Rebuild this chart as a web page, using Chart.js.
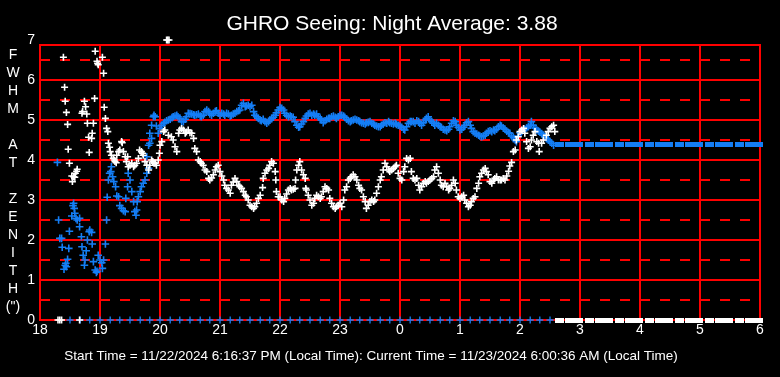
<!DOCTYPE html>
<html>
<head>
<meta charset="utf-8">
<script src="https://cdn.jsdelivr.net/npm/chart.js@4.4.1/dist/chart.umd.min.js"></script>
<style>
html,body{margin:0;padding:0;background:#000;overflow:hidden}
#wrap{position:relative;width:780px;height:377px;background:#000}
</style>
</head>
<body>
<div id="wrap"><canvas id="c" width="780" height="377"></canvas></div>
<script>
// ---------------- DATA (hours after 18:00 continue past 24 -> 0..6) ----------------
const chartTitle = "GHRO Seeing: Night Average: 3.88";
const footerText = "Start Time = 11/22/2024 6:16:37 PM (Local Time): Current Time = 11/23/2024 6:00:36 AM (Local Time)";
const yAxisLetters = ["F","W","H","M","","A","T","","Z","E","N","I","T","H","(\")"];

// white series: [hour, FWHM arcsec]
const whiteSeeing = [
[18.30,0],[18.33,0],[18.36,0],[18.66,0],
[18.39,6.57],[18.41,5.82],[18.42,5.47],[18.44,5.19],[18.46,4.89],[18.47,4.27],[18.49,3.92],
[18.53,3.6],[18.54,3.46],[18.56,3.58],[18.58,3.57],[18.59,3.67],[18.61,3.72],[18.62,3.77],
[18.70,5.17],[18.71,5.21],[18.74,5.47],[18.76,5.33],[18.78,5.15],[18.79,4.92],[18.81,4.57],[18.82,4.19],[18.86,4.54],[18.87,4.67],[18.89,4.92],[18.91,5.54],
[18.92,6.72],[18.95,6.47],[18.96,6.42],[18.97,6.38],[19.04,6.57],[19.06,6.17],
[19.07,5.32],[19.09,5.04],[19.11,4.79],[19.13,4.71],[19.14,4.42],[19.16,4.32],[19.17,4.21],[19.19,4.12],[19.22,4.04],[19.24,4.0],[19.25,3.96],[19.27,3.93],[19.28,4.12],[19.31,4.21],[19.33,4.25],[19.36,4.46],[19.37,4.43],[19.39,4.21],[19.42,4.08],[19.44,3.96],[19.46,4.08],[19.47,3.83],[19.5,3.87],[19.53,3.92],[19.56,3.83],[19.58,3.87],[19.61,3.92],[19.64,4.04],[19.66,4.25],[19.69,4.21],[19.71,4.17],[19.72,4.12],[19.75,3.96],[19.78,3.87],[19.81,3.75],[19.83,3.87],[19.86,4.0],[19.88,3.96],[19.9,3.92],[19.92,3.92],[19.94,3.87],[19.97,4.0],[19.99,4.17],[20.0,4.37],[20.03,4.46],[20.06,4.71],[20.08,4.75],
[20.11,7],[20.13,7],[20.15,7],
[20.14,4.62],[20.19,4.58],[20.22,4.5],[20.25,4.33],[20.28,4.21],[20.31,4.67],[20.33,4.75],[20.36,4.79],[20.39,4.75],[20.42,4.67],[20.44,4.7],[20.47,4.75],[20.5,4.68],[20.53,4.67],[20.56,4.54],[20.58,4.29],[20.61,4.21],[20.64,4.0],[20.67,3.96],[20.69,3.92],[20.72,3.87],[20.75,3.75],[20.78,3.71],[20.81,3.54],[20.83,3.5],[20.86,3.55],[20.89,3.63],[20.92,3.75],[20.94,3.83],[20.97,3.87],[21.0,3.71],[21.03,3.6],[21.06,3.5],[21.08,3.37],[21.11,3.29],[21.14,3.25],[21.17,3.17],[21.19,3.37],[21.22,3.45],[21.25,3.54],[21.28,3.46],[21.31,3.37],[21.33,3.33],[21.36,3.29],[21.39,3.21],[21.42,3.12],[21.44,3.08],[21.47,3.0],[21.5,2.87],[21.53,2.83],[21.56,2.79],[21.58,2.83],[21.61,2.92],[21.64,3.04],[21.67,3.12],[21.71,3.31],[21.72,3.54],[21.75,3.67],[21.78,3.75],[21.81,3.79],[21.83,3.87],[21.86,3.96],[21.89,3.92],[21.92,3.71],[21.93,3.5],[21.94,3.21],[21.97,3.08],
[22.0,3.08],[22.03,3.0],[22.06,2.96],[22.08,3.04],[22.11,3.15],[22.14,3.25],[22.17,3.29],[22.19,3.25],[22.22,3.27],[22.25,3.29],[22.26,3.5],[22.28,3.75],[22.31,3.87],[22.33,3.96],[22.36,3.75],[22.39,3.63],[22.42,3.54],[22.43,3.29],[22.44,3.25],[22.47,3.12],[22.5,3.0],[22.53,2.87],[22.56,2.92],[22.58,3.04],[22.61,3.12],[22.64,3.08],[22.67,3.04],[22.69,3.08],[22.72,3.21],[22.75,3.33],[22.78,3.29],[22.81,3.25],[22.83,3.04],[22.86,2.92],[22.89,2.83],[22.92,2.79],[22.94,2.83],[22.97,2.87],[23.0,2.92],[23.03,2.83],[23.06,3.0],[23.08,3.25],[23.11,3.33],[23.14,3.5],[23.17,3.54],[23.19,3.58],[23.22,3.63],[23.25,3.58],[23.28,3.5],[23.31,3.37],[23.33,3.29],[23.36,3.25],[23.39,3.08],[23.42,2.96],[23.44,2.79],[23.47,2.87],[23.5,2.96],[23.53,3.0],[23.56,2.96],[23.58,3.0],[23.61,3.17],[23.64,3.33],[23.67,3.5],[23.69,3.58],[23.72,3.75],[23.75,3.92],[23.78,3.83],[23.81,3.75],[23.83,3.71],[23.86,3.75],[23.89,3.79],[23.92,3.83],[23.94,3.87],[23.97,3.67],[24.0,3.54],[24.03,3.5],[24.06,3.71],[24.08,3.83],[24.11,4.04],[24.14,4.0],
[24.17,4.04],[24.19,3.71],[24.22,3.54],[24.25,3.5],[24.28,3.54],[24.31,3.37],[24.33,3.25],[24.36,3.33],[24.39,3.42],[24.42,3.46],[24.44,3.42],[24.47,3.46],[24.5,3.5],[24.53,3.54],[24.56,3.58],[24.58,3.75],[24.61,3.83],[24.64,3.67],[24.67,3.5],[24.69,3.37],[24.72,3.33],[24.75,3.42],[24.78,3.33],[24.81,3.25],[24.83,3.29],[24.86,3.37],[24.89,3.5],[24.92,3.42],[24.94,3.25],[24.97,3.08],[25.0,3.04],[25.03,3.08],[25.06,3.12],[25.08,3.0],[25.11,2.92],[25.14,2.83],[25.17,2.87],[25.19,2.96],[25.22,3.04],[25.25,3.08],[25.28,3.29],[25.31,3.42],[25.33,3.58],[25.36,3.67],[25.39,3.75],[25.42,3.79],[25.44,3.71],[25.47,3.63],[25.5,3.46],[25.53,3.42],[25.56,3.5],[25.58,3.54],[25.61,3.58],[25.64,3.5],[25.67,3.5],[25.69,3.5],[25.72,3.54],[25.75,3.5],[25.78,3.6],[25.81,3.72],[25.83,3.85],[25.86,3.94],[25.89,4.21],[25.92,4.25],
[25.94,4.5],[25.97,4.58],[26.0,4.71],[26.03,4.75],[26.06,4.79],[26.08,4.67],[26.11,4.46],[26.14,4.29],[26.17,4.33],[26.19,4.5],[26.22,4.62],[26.25,4.71],[26.28,4.46],[26.31,4.42],[26.32,4.21],[26.36,4.42],[26.39,4.5],[26.44,4.62],[26.47,4.71],[26.5,4.79],[26.53,4.83],[26.56,4.87],[26.58,4.71]
];

// blue series: [hour, FWHM arcsec]
const blueSeeing = [
[18.29,3.94],[18.31,2.5],[18.33,2.04],[18.36,2.04],[18.37,1.82],[18.4,1.27],[18.42,1.37],[18.43,1.42],[18.44,1.33],[18.46,1.52],[18.48,1.79],[18.49,2.22],[18.53,2.6],[18.55,2.86],[18.56,2.92],[18.57,2.79],[18.58,2.67],[18.6,2.54],[18.62,2.5],[18.66,2.54],[18.66,2.33],[18.69,2.08],[18.7,1.83],[18.72,1.62],[18.74,1.37],[18.75,1.5],[18.77,1.73],[18.79,2.0],[18.82,2.21],[18.83,2.25],[18.86,2.19],[18.87,1.9],[18.89,1.46],[18.92,1.25],[18.94,1.19],[18.95,1.22],[18.97,1.62],[19.0,1.5],[19.03,1.43],[19.04,1.29],[19.06,1.5],[19.09,1.9],[19.11,2.5],[19.12,3.07],
[19.14,3.5],[19.16,3.67],[19.18,3.71],[19.19,3.83],[19.21,3.58],[19.23,3.46],[19.26,3.33],[19.28,3.1],[19.31,3.08],[19.33,2.86],[19.36,2.79],[19.39,2.73],[19.42,2.71],[19.43,3.04],[19.46,3.33],[19.47,3.67],[19.5,3.5],[19.53,3.21],[19.56,2.96],[19.58,2.71],[19.6,2.62],[19.61,2.75],[19.62,2.96],[19.64,3.08],[19.67,3.21],[19.69,3.33],[19.72,3.42],[19.75,3.5],[19.78,3.67],[19.81,3.79],[19.78,4.08],[19.81,4.37],[19.83,4.42],[19.83,4.67],[19.86,4.54],[19.86,4.87],[19.89,5.08],[19.9,5.12],[19.92,5.08],[19.94,4.85],[19.97,4.67],[20.0,4.79],[20.03,4.87],[20.06,4.92],
[20.08,4.94],[20.11,4.98],[20.14,5.0],[20.17,5.02],[20.2,5.06],[20.22,5.08],[20.25,5.1],[20.28,5.12],[20.3,5.08],[20.33,5.04],[20.36,4.96],[20.39,4.96],[20.42,5.02],[20.44,5.08],[20.47,5.17],[20.5,5.16],[20.53,5.15],[20.56,5.13],[20.58,5.12],[20.61,5.13],[20.64,5.15],[20.67,5.1],[20.69,5.08],[20.72,5.12],[20.75,5.21],[20.78,5.25],[20.81,5.21],[20.83,5.15],[20.86,5.12],[20.89,5.17],[20.92,5.21],[20.94,5.23],[20.97,5.17],[21.0,5.12],[21.03,5.17],[21.06,5.15],[21.08,5.12],[21.11,5.17],[21.14,5.15],[21.17,5.1],[21.19,5.12],[21.22,5.15],[21.25,5.17],[21.28,5.21],[21.31,5.23],[21.33,5.25],[21.36,5.37],[21.39,5.42],[21.42,5.33],[21.44,5.35],[21.47,5.37],[21.5,5.33],[21.53,5.37],[21.56,5.21],[21.58,5.12],[21.61,5.08],[21.64,5.04],[21.67,5.0],[21.69,4.98],[21.72,5.02],[21.75,4.96],[21.78,4.92],[21.81,4.96],[21.83,5.0],[21.86,5.04],[21.89,5.07],[21.92,5.12],[21.94,5.18],[21.97,5.25],[22.0,5.31],
[22.03,5.29],[22.06,5.25],[22.08,5.17],[22.11,5.12],[22.14,5.08],[22.17,5.1],[22.19,5.08],[22.22,5.07],[22.25,4.96],[22.28,4.87],[22.31,4.82],[22.33,4.83],[22.36,4.9],[22.39,4.96],[22.42,5.04],[22.44,5.1],[22.47,5.15],[22.5,5.17],[22.53,5.12],[22.56,5.15],[22.58,5.12],[22.61,5.15],[22.64,5.08],[22.67,5.04],[22.69,5.0],[22.72,4.93],[22.75,4.98],[22.78,5.02],[22.81,5.04],[22.83,5.04],[22.86,5.08],[22.89,5.1],[22.92,5.07],[22.94,5.04],[22.97,5.08],[23.0,5.12],[23.03,5.12],[23.06,5.1],[23.08,5.07],[23.11,5.02],[23.14,4.98],[23.17,4.96],[23.19,4.98],[23.22,5.0],[23.25,5.02],[23.28,5.0],[23.31,4.98],[23.33,4.96],[23.36,4.93],[23.39,4.92],[23.42,4.9],[23.44,4.93],[23.47,4.94],[23.5,4.96],[23.53,4.92],[23.56,4.9],[23.58,4.87],[23.61,4.85],[23.64,4.83],[23.67,4.83],[23.69,4.87],[23.72,4.9],[23.75,4.93],[23.78,4.92],[23.81,4.96],[23.83,4.93],[23.86,4.92],[23.89,4.9],[23.92,4.92],[23.94,4.89],[23.97,4.87],[24.0,4.85],[24.03,4.82],[24.06,4.77],[24.08,4.75],[24.11,4.83],[24.14,4.92],
[24.17,4.96],[24.19,4.96],[24.22,4.96],[24.25,4.92],[24.28,4.98],[24.31,4.96],[24.33,4.92],[24.36,4.87],[24.39,4.93],[24.42,5.0],[24.44,5.04],[24.47,5.08],[24.5,5.0],[24.53,4.96],[24.56,4.92],[24.58,4.87],[24.61,4.92],[24.64,4.87],[24.67,4.83],[24.69,4.82],[24.72,4.77],[24.75,4.75],[24.78,4.73],[24.81,4.77],[24.83,4.83],[24.86,4.92],[24.89,4.98],[24.92,4.96],[24.94,4.87],[24.97,4.82],[25.0,4.75],[25.03,4.77],[25.06,4.82],[25.08,4.87],[25.11,4.93],[25.14,4.96],[25.17,4.87],[25.19,4.79],[25.22,4.71],[25.25,4.67],[25.28,4.65],[25.31,4.62],[25.33,4.6],[25.36,4.58],[25.39,4.6],[25.42,4.62],[25.44,4.67],[25.47,4.71],[25.5,4.73],[25.53,4.71],[25.56,4.75],[25.58,4.73],[25.61,4.77],[25.64,4.83],[25.67,4.87],[25.69,4.85],[25.72,4.8],[25.75,4.77],[25.78,4.72],[25.81,4.68],[25.83,4.67],[25.86,4.6],[25.89,4.56],[25.92,4.5],[25.94,4.46],[25.97,4.6],[26.0,4.68],[26.03,4.72],[26.06,4.75],[26.08,4.77],[26.11,4.8],[26.14,4.83],[26.17,4.87],[26.19,4.96],[26.22,4.87],[26.25,4.8],[26.28,4.75],[26.31,4.72],[26.33,4.7],[26.36,4.66],[26.39,4.62],[26.42,4.58],[26.44,4.54],[26.47,4.5],[26.5,4.46],[26.53,4.42],[26.56,4.37]
];

// blue zero readings (every 10 min)
const blueZeroTimes = [18.5,18.67,18.83,19,19.17,19.33,19.5,19.67,19.83,20,20.17,20.33,20.5,20.67,20.83,21,21.17,21.33,21.5,21.67,21.83,22,22.17,22.33,22.5,22.67,22.83,23,23.17,23.33,23.5,23.67,23.83,24,24.17,24.33,24.5,24.67,24.83,25,25.17,25.33,25.5,25.67,25.83,26,26.17,26.33,26.5];
// held values after the last reading
const holdTimes = [26.65,26.82,26.98,27.15,27.32,27.48,27.65,27.82,27.98,28.15,28.32,28.48,28.65,28.82,28.98,29.15,29.32,29.48,29.65,29.82,29.98];
const blueHoldValue = 4.38;
const whiteHoldValue = 0;
const blueZeroValue = 0;

const xMin = 18, xMax = 30;
const yMin = 0, yMax = 7, frameTop = 6.875;

// ---------------- STYLE ----------------
const BLUE = 'rgb(20,126,245)';
const WHITE = '#ffffff';
const RED = '#ff0000';
const FONT = "'Liberation Sans', Arial, sans-serif";

function blockStyle(color) {
  const c = document.createElement('canvas');
  c.width = 9; c.height = 5;
  const g = c.getContext('2d');
  g.fillStyle = color; g.fillRect(0, 0, 9, 5);
  return c;
}

const toPts = arr => arr.map(p => ({x: p[0], y: p[1]}));
const constPts = (times, v) => times.map(t => ({x: t, y: v}));

const framePlugin = {
  id: 'ghroFrame',
  beforeDatasetsDraw(chart) {
    const {ctx, scales: {x, y}} = chart;
    const L = x.getPixelForValue(xMin), R = x.getPixelForValue(xMax);
    const T = y.getPixelForValue(frameTop), B = y.getPixelForValue(yMin);
    ctx.save();
    ctx.strokeStyle = RED; ctx.lineWidth = 2;
    ctx.setLineDash([10, 10]);
    for (let v = 0.5; v < frameTop; v += 1) {
      const py = y.getPixelForValue(v);
      ctx.beginPath(); ctx.moveTo(L, py); ctx.lineTo(R, py); ctx.stroke();
    }
    ctx.setLineDash([]);
    for (let v = 1; v < frameTop; v += 1) {
      const py = y.getPixelForValue(v);
      ctx.beginPath(); ctx.moveTo(L, py); ctx.lineTo(R, py); ctx.stroke();
    }
    for (let h = xMin + 1; h < xMax; h += 1) {
      const px = x.getPixelForValue(h);
      ctx.beginPath(); ctx.moveTo(px, T); ctx.lineTo(px, B); ctx.stroke();
    }
    ctx.strokeRect(L, T, R - L, B - T);
    ctx.restore();
  },
  afterDraw(chart) {
    const {ctx} = chart;
    ctx.save();
    ctx.fillStyle = WHITE;
    ctx.textAlign = 'center';
    ctx.textBaseline = 'alphabetic';
    ctx.font = "21px " + FONT;
    ctx.fillText(chartTitle, 392, 29.5);
    ctx.font = "13.5px " + FONT;
    ctx.fillText(footerText, 371, 360);
    ctx.font = "14px " + FONT;
    yAxisLetters.forEach((ch, i) => {
      if (ch) ctx.fillText(ch, 13, 58.5 + 18.05 * i);
    });
    ctx.restore();
  }
};

const crossCommon = {showLine: false, pointStyle: 'cross', pointRadius: 3.5, pointHoverRadius: 3.5, pointBorderWidth: 1.6, clip: false};

new Chart(document.getElementById('c'), {
  type: 'scatter',
  data: {
    datasets: [
      Object.assign({label: 'white', data: toPts(whiteSeeing), borderColor: WHITE, backgroundColor: WHITE}, crossCommon),
      {label: 'white hold', data: constPts(holdTimes, whiteHoldValue), pointStyle: blockStyle(WHITE), showLine: false, clip: false},
      {label: 'blue hold', data: constPts(holdTimes, blueHoldValue), pointStyle: blockStyle(BLUE), showLine: false, clip: false},
      Object.assign({label: 'blue zero', data: constPts(blueZeroTimes, blueZeroValue), borderColor: BLUE, backgroundColor: BLUE}, crossCommon, {pointBorderWidth: 1.3}),
      Object.assign({label: 'blue', data: toPts(blueSeeing), borderColor: BLUE, backgroundColor: BLUE}, crossCommon, {pointRadius: 3.8})
    ]
  },
  options: {
    responsive: false,
    devicePixelRatio: 1,
    animation: false,
    events: [],
    layout: {padding: {top: 40, right: 20, left: 0, bottom: 0}},
    plugins: {legend: {display: false}, tooltip: {enabled: false}, title: {display: false}},
    scales: {
      x: {
        type: 'linear', position: 'bottom', min: xMin, max: xMax,
        grid: {display: false, drawTicks: false},
        border: {display: false},
        ticks: {stepSize: 1, color: WHITE, font: {family: FONT, size: 14}, padding: 2, maxRotation: 0,
          callback: v => String(v % 24)},
        afterFit: s => { s.height = 57; }
      },
      y: {
        min: yMin, max: yMax,
        grid: {display: false, drawTicks: false},
        border: {display: false},
        ticks: {stepSize: 1, color: WHITE, font: {family: FONT, size: 14}, padding: 5},
        afterFit: s => { s.width = 40; }
      }
    }
  },
  plugins: [framePlugin]
});
</script>
</body>
</html>
